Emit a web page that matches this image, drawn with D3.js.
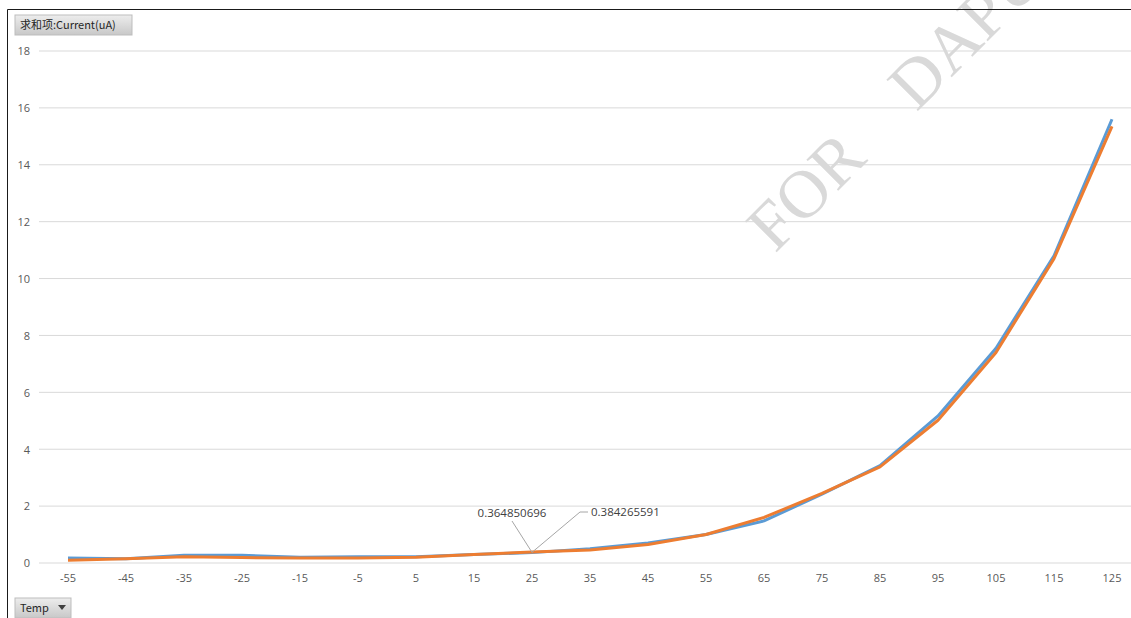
<!doctype html>
<html>
<head>
    <meta charset="utf-8">
    <script src="https://d3js.org/d3.v7.min.js"></script>
    <style type="text/css">
        body { margin: 0; background: #fff; }
        #board { display: block; }
        .tick text { font-family: "Open Sans", "Noto Sans", sans-serif; font-size: 11px; }
        .grid line { stroke: #d9d9d9; stroke-width: 1px; }
        .lbl { font-family: "Open Sans", "Noto Sans", sans-serif; font-size: 11.5px; fill: #404040; }
        .btn text { font-family: "Noto Sans CJK SC", "Open Sans", sans-serif; font-size: 11px; fill: #262626; }
    </style>
</head>
<body>
<svg id="board" width="1131" height="618"></svg>
<script type="text/javascript">
    var temps = [-55, -45, -35, -25, -15, -5, 5, 15, 25, 35, 45, 55, 65, 75, 85, 95, 105, 115, 125];
    var blueVals = [0.18, 0.15, 0.27, 0.27, 0.2, 0.22, 0.22, 0.3, 0.364850696, 0.5, 0.7, 1.0, 1.48, 2.42, 3.42, 5.17, 7.55, 10.8, 15.6];
    var orangeVals = [0.1, 0.15, 0.22, 0.19, 0.18, 0.18, 0.2, 0.3, 0.384265591, 0.46, 0.65, 1.0, 1.6, 2.45, 3.38, 5.02, 7.4, 10.7, 15.35];
    var yTicks = [0, 2, 4, 6, 8, 10, 12, 14, 16, 18];
    var labelTemp = 25;

    var svg = d3.select("#board");

    // watermark first, behind everything
    svg.append("text")
        .attr("transform", "translate(775,254) rotate(-45)")
        .attr("font-family", "Liberation Serif, serif")
        .attr("font-size", 68)
        .attr("fill", "#d9d9d9")
        .attr("xml:space", "preserve")
        .text("FOR    DAPU");

    var x = d3.scaleBand()
        .domain(temps)
        .range([39, 39 + 58 * temps.length])
        .padding(0);

    var y = d3.scaleLinear()
        .domain([0, 18])
        .range([563, 51]);

    // gridlines
    svg.append("g")
        .attr("class", "grid")
        .selectAll("line")
        .data(yTicks)
        .enter()
        .append("line")
        .attr("x1", 39)
        .attr("x2", 1131)
        .attr("y1", function(d) { return y(d); })
        .attr("y2", function(d) { return y(d); });

    var yAxis = svg.append("g")
        .attr("transform", "translate(30,0)")
        .style("color", "#595959")
        .call(d3.axisLeft(y).tickValues(yTicks).tickSize(0).tickPadding(0));
    yAxis.select(".domain").remove();
    yAxis.selectAll(".tick text").attr("fill", "#595959").attr("dy", "0.35em");

    var xAxis = svg.append("g")
        .attr("transform", "translate(0,573)")
        .style("color", "#595959")
        .call(d3.axisBottom(x).tickSize(0).tickPadding(0));
    xAxis.select(".domain").remove();
    xAxis.selectAll(".tick text").attr("fill", "#595959").attr("dy", "0.8em");

    var line = d3.line()
        .x(function(d, i) { return x(temps[i]) + x.bandwidth() / 2; })
        .y(function(d) { return y(d); });

    svg.append("path")
        .datum(blueVals)
        .attr("fill", "none")
        .attr("stroke", "#5b9bd5")
        .attr("stroke-width", 3)
        .attr("stroke-linejoin", "round")
        .attr("d", line);

    svg.append("path")
        .datum(orangeVals)
        .attr("fill", "none")
        .attr("stroke", "#ed7d31")
        .attr("stroke-width", 3)
        .attr("stroke-linejoin", "round")
        .attr("d", line);

    // data labels at 25 with leader lines
    var li = temps.indexOf(labelTemp);
    var px = x(labelTemp) + x.bandwidth() / 2;
    var py = y((blueVals[li] + orangeVals[li]) / 2);

    svg.append("path")
        .attr("fill", "none")
        .attr("stroke", "#a6a6a6")
        .attr("stroke-width", 1)
        .attr("d", "M" + (px - 20) + "," + 521 + "L" + px + "," + py);
    svg.append("path")
        .attr("fill", "none")
        .attr("stroke", "#a6a6a6")
        .attr("stroke-width", 1)
        .attr("d", "M" + px + "," + py + "L" + (px + 48) + "," + 512 + "L" + (px + 56) + "," + 512);

    svg.append("text")
        .attr("class", "lbl")
        .attr("x", px - 20)
        .attr("y", 517)
        .attr("text-anchor", "middle")
        .text(String(blueVals[li]));
    svg.append("text")
        .attr("class", "lbl")
        .attr("x", px + 59)
        .attr("y", 516)
        .text(String(orangeVals[li]));

    // chart border (top and left only visible)
    svg.append("path")
        .attr("fill", "none")
        .attr("stroke", "#1a1a1a")
        .attr("stroke-width", 1)
        .attr("d", "M7.5,618V9.5H1131");

    // field buttons
    var grad = svg.append("defs").append("linearGradient")
        .attr("id", "btnGrad").attr("x1", 0).attr("y1", 0).attr("x2", 0).attr("y2", 1);
    grad.append("stop").attr("offset", "0%").attr("stop-color", "#ededed");
    grad.append("stop").attr("offset", "100%").attr("stop-color", "#c8c8c8");

    var b1 = svg.append("g").attr("class", "btn");
    b1.append("rect").attr("x", 15).attr("y", 15).attr("width", 117).attr("height", 20)
        .attr("fill", "url(#btnGrad)").attr("stroke", "#bdbdbd");
    b1.append("text").attr("x", 20).attr("y", 29).text("求和项:Current(uA)");

    var b2 = svg.append("g").attr("class", "btn");
    b2.append("rect").attr("x", 15).attr("y", 598).attr("width", 56).attr("height", 20)
        .attr("fill", "url(#btnGrad)").attr("stroke", "#bdbdbd");
    b2.append("text").attr("x", 20).attr("y", 612).text("Temp");
    b2.append("path").attr("d", "M58,605L66,605L62,610Z").attr("fill", "#404040");
</script>
</body>
</html>
